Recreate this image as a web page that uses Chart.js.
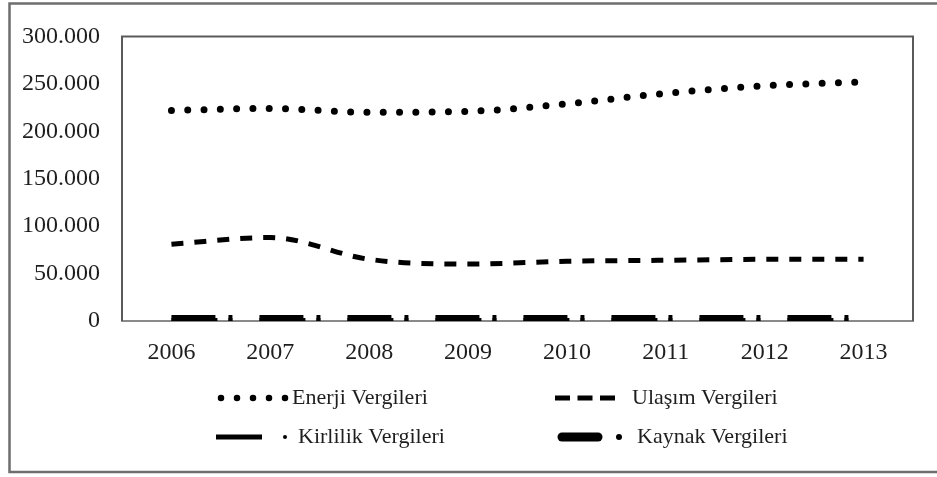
<!DOCTYPE html>
<html>
<head>
<meta charset="utf-8">
<script src="https://cdn.jsdelivr.net/npm/chart.js@4"></script>
<style>
html,body{margin:0;padding:0;background:#fff;}
#wrap{position:relative;width:937px;height:477px;}
</style>
</head>
<body>
<div id="wrap"><canvas id="c" width="937" height="477"></canvas></div>
<script>
const years = ['2006','2007','2008','2009','2010','2011','2012','2013'];
const enerji = [222000, 224000, 220000, 221000, 229000, 240000, 248000, 252000];
const ulasim = [81000, 88000, 65000, 60000, 63000, 64000, 65000, 65000];
const kirlilik = [1000, 1000, 1000, 1000, 1000, 1000, 1000, 1000];
const kaynak = [2000, 2000, 2000, 2000, 2000, 2000, 2000, 2000];
const seriesNames = ['Enerji Vergileri', 'Ulaşım Vergileri', 'Kirlilik Vergileri', 'Kaynak Vergileri'];
const yTicks = [0, 50000, 100000, 150000, 200000, 250000, 300000];

const FONT = '"Liberation Serif", "Times New Roman", serif';
const TEXT = '#1e1e1e';

function fmt(v){
  if (v === 0) return '0';
  const s = String(v);
  return s.replace(/\B(?=(\d{3})+(?!\d))/g, '.');
}

const frame = {
  id: 'frame',
  beforeDraw(chart){
    const {ctx} = chart;
    ctx.save();
    ctx.fillStyle = '#fff';
    ctx.fillRect(0,0,chart.width,chart.height);
    ctx.strokeStyle = '#6e6e6e';
    ctx.lineWidth = 2.5;
    ctx.beginPath();
    ctx.moveTo(945, 3.5);
    ctx.lineTo(9.5, 3.5);
    ctx.lineTo(9.5, 472);
    ctx.lineTo(945, 472);
    ctx.stroke();
    ctx.restore();
  },
  afterDatasetsDraw(chart){
    const {ctx, chartArea:a} = chart;
    ctx.save();
    ctx.strokeStyle = '#5a5a5a';
    ctx.lineWidth = 2;
    ctx.beginPath();
    ctx.moveTo(a.left, a.bottom);
    ctx.lineTo(a.left, a.top);
    ctx.lineTo(a.right, a.top);
    ctx.lineTo(a.right, a.bottom);
    ctx.stroke();
    ctx.restore();
    // legend
    const items = [
      {ds:0, x1:221, x2:286, y:398, tx:292},
      {ds:1, x1:555, x2:615, y:398, tx:632},
      {ds:2, x1:216, x2:262, y:437, tx:298, dot:285, dr:2},
      {ds:3, x1:562, x2:598, y:437, tx:637, dot:619, dr:3}
    ];
    items.forEach(it => {
      const d = chart.data.datasets[it.ds];
      ctx.save();
      ctx.strokeStyle = '#000';
      ctx.lineWidth = d.legendWidth;
      ctx.lineCap = d.legendCap;
      ctx.setLineDash(d.legendDash);
      ctx.beginPath();
      ctx.moveTo(it.x1, it.y);
      ctx.lineTo(it.x2, it.y);
      ctx.stroke();
      if (it.dot){
        ctx.setLineDash([]);
        ctx.fillStyle = '#000';
        ctx.beginPath();
        ctx.arc(it.dot, it.y, it.dr, 0, Math.PI*2);
        ctx.fill();
      }
      ctx.fillStyle = TEXT;
      ctx.font = '22px ' + FONT;
      ctx.textBaseline = 'middle';
      ctx.textAlign = 'left';
      ctx.fillText(d.label, it.tx, it.y);
      ctx.restore();
    });
  }
};

new Chart(document.getElementById('c'), {
  type: 'line',
  data: {
    labels: years,
    datasets: [
      {label: seriesNames[0], data: enerji, borderColor:'#000', borderWidth:7, borderDash:[0,16.3], borderCapStyle:'round', cubicInterpolationMode:'monotone', pointRadius:0,
       legendWidth:6.5, legendDash:[0,16], legendCap:'round'},
      {label: seriesNames[1], data: ulasim, borderColor:'#000', borderWidth:5, borderDash:[12,11], borderCapStyle:'butt', cubicInterpolationMode:'monotone', pointRadius:0,
       legendWidth:5, legendDash:[15,7.5], legendCap:'butt'},
      {label: seriesNames[2], data: kirlilik, borderColor:'#000', borderWidth:4, borderDash:[46,11,4,27], borderCapStyle:'butt', cubicInterpolationMode:'monotone', pointRadius:0,
       legendWidth:5, legendDash:[], legendCap:'butt'},
      {label: seriesNames[3], data: kaynak, borderColor:'#000', borderWidth:8, borderDash:[44,13,4,27], borderCapStyle:'butt', cubicInterpolationMode:'monotone', pointRadius:0,
       legendWidth:9, legendDash:[], legendCap:'round'}
    ]
  },
  options: {
    responsive:false,
    animation:false,
    devicePixelRatio:1,
    layout:{padding:{left:0, top:32, right:24, bottom:106}},
    plugins:{legend:{display:false}, tooltip:{enabled:false}},
    scales:{
      x:{
        offset:true,
        grid:{display:false, drawTicks:false},
        border:{display:true, color:'#8a8a8a', width:2},
        ticks:{font:{family:FONT, size:24}, color:TEXT, padding:17, maxRotation:0},
        afterFit(s){ s.height = 50; }
      },
      y:{
        min:0, max:300000,
        afterBuildTicks(s){ s.ticks = yTicks.map(v => ({value:v})); },
        grid:{display:false, drawTicks:false},
        border:{display:false},
        ticks:{font:{family:FONT, size:24}, color:TEXT, padding:22, callback:v => fmt(v)},
        afterFit(s){ s.width = 122; }
      }
    }
  },
  plugins:[frame]
});
</script>
</body>
</html>
